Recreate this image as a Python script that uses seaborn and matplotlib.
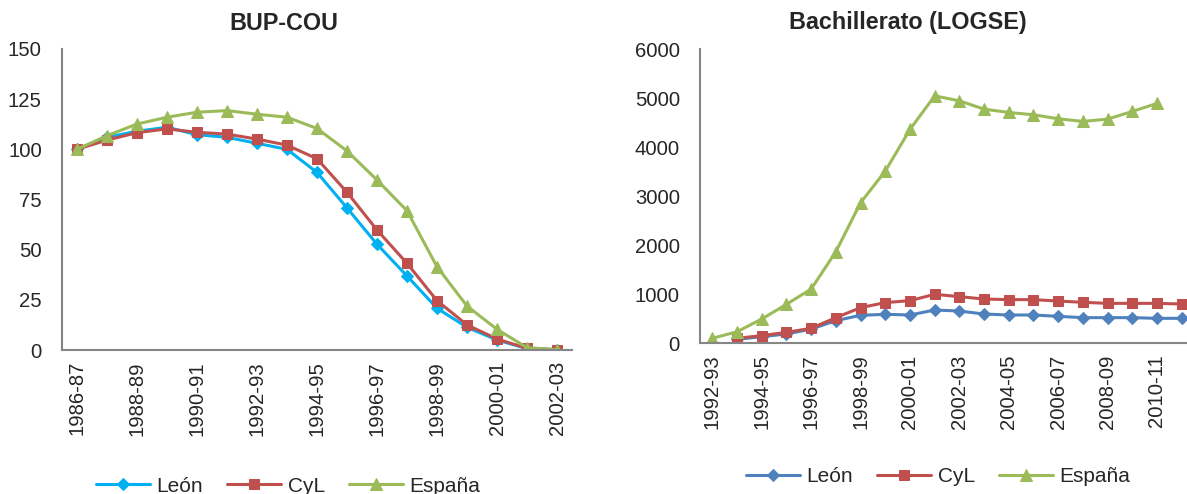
import numpy as np
import pandas as pd
import matplotlib
matplotlib.use('Agg')
import matplotlib.pyplot as plt
import seaborn as sns

# Data - BUP-COU (index, 1986-87 = 100)
bup_years = ['1986-87', '1987-88', '1988-89', '1989-90', '1990-91', '1991-92',
             '1992-93', '1993-94', '1994-95', '1995-96', '1996-97', '1997-98',
             '1998-99', '1999-00', '2000-01', '2001-02', '2002-03']
bup_leon = [100, 106, 109, 111, 107.3, 106, 103, 100, 88.5, 70.8, 52.7, 36.9,
            20.8, 11.3, 5.0, 0.7, 0.2]
bup_cyl = [100, 104.6, 108.3, 110.2, 108.5, 107.6, 105.1, 102.1, 95.3, 78.6,
           59.8, 43.2, 24.6, 12.5, 5.5, 0.8, 0.2]
bup_esp = [100, 106.8, 112.6, 116, 118.5, 119.3, 117.5, 116, 110.4, 99.2,
           84.7, 69.4, 41.5, 21.9, 10.3, 1.2, 0.1]

# Data - Bachillerato (LOGSE)
logse_years = ['1992-93', '1993-94', '1994-95', '1995-96', '1996-97', '1997-98',
               '1998-99', '1999-00', '2000-01', '2001-02', '2002-03', '2003-04',
               '2004-05', '2005-06', '2006-07', '2007-08', '2008-09', '2009-10',
               '2010-11', '2011-12']
logse_leon = [np.nan, 80, 136, 190, 290, 463, 571, 592, 578, 680, 659, 598,
              578, 578, 551, 524, 524, 524, 510, 510]
logse_cyl = [np.nan, 102, 157, 224, 306, 524, 728, 831, 871, 1000, 953, 904,
             892, 892, 863, 837, 816, 816, 816, 802]
logse_esp = [102, 236, 496, 796, 1108, 1870, 2871, 3516, 4367, 5053, 4952, 4782,
             4714, 4667, 4586, 4531, 4578, 4735, 4898, np.nan]

sns.set_style('white')
plt.rcParams['font.family'] = ['Liberation Sans', 'DejaVu Sans']

fig = plt.figure(figsize=(11.87, 4.94), dpi=100)
ax1 = fig.add_axes([62 / 1187, 144 / 494, 510 / 1187, 301 / 494])
ax2 = fig.add_axes([700 / 1187, 150.7 / 494, 487 / 1187, 293.8 / 494])

red = '#C0504D'
green = '#9BBB59'
axis_grey = '#868686'


def draw(ax, years, leon, cyl, esp, leon_color):
    df = pd.DataFrame({'i': range(len(years)), 'León': leon, 'CyL': cyl, 'España': esp})
    styles = [('León', leon_color, 'D', 6.5),
              ('CyL', red, 's', 7.5),
              ('España', green, '^', 8.5)]
    for name, col, mk, ms in styles:
        sub = df.dropna(subset=[name])
        sns.lineplot(data=sub, x='i', y=name, ax=ax, color=col, marker=mk,
                     markersize=ms, markeredgecolor=col, linewidth=2.2,
                     label=name, legend=False)
    ax.set_xlabel('')
    ax.set_ylabel('')
    ax.set_xticks(range(0, len(years), 2))
    ax.set_xticklabels(years[::2], rotation=90)
    ax.set_xticks(np.arange(-0.5, len(years), 1), minor=True)
    ax.tick_params(axis='x', which='major', length=0, pad=8, labelsize=14.6)
    ax.tick_params(axis='x', which='minor', length=5, width=1.2, color=axis_grey)
    ax.tick_params(axis='y', length=5, width=1.2, color=axis_grey, pad=9.5, labelsize=14.6)
    for s in ['top', 'right']:
        ax.spines[s].set_visible(False)
    for s in ['left', 'bottom']:
        ax.spines[s].set_color(axis_grey)
        ax.spines[s].set_linewidth(1.5)
    ax.grid(False)


draw(ax1, bup_years, bup_leon, bup_cyl, bup_esp, '#00B0F0')
ax1.set_xlim(-0.5, 16.5)
ax1.set_ylim(0, 150)
ax1.set_yticks([0, 25, 50, 75, 100, 125, 150])

draw(ax2, logse_years, logse_leon, logse_cyl, logse_esp, '#4F81BD')
ax2.set_xlim(-0.5, -0.5 + 487 / 24.7)
ax2.set_ylim(0, 6000)
ax2.set_yticks(range(0, 6001, 1000))

fig.text(284 / 1187, 1 - 24 / 494, 'BUP-COU', ha='center', va='center',
         fontsize=16.8, fontweight='bold')
fig.text(908 / 1187, 1 - 23 / 494, 'Bachillerato (LOGSE)', ha='center', va='center',
         fontsize=16.8, fontweight='bold')

leg_kw = dict(loc='center', ncol=3, frameon=False, fontsize=15, handlelength=2.6,
              handletextpad=0.3, columnspacing=1.15, borderaxespad=0)
h1, l1 = ax1.get_legend_handles_labels()
fig.legend(h1, l1, bbox_to_anchor=(288 / 1187, 1 - 486 / 494), **leg_kw)
h2, l2 = ax2.get_legend_handles_labels()
fig.legend(h2, l2, bbox_to_anchor=(938 / 1187, 1 - 476.5 / 494), **leg_kw)

fig.savefig('out.png', dpi=100)
